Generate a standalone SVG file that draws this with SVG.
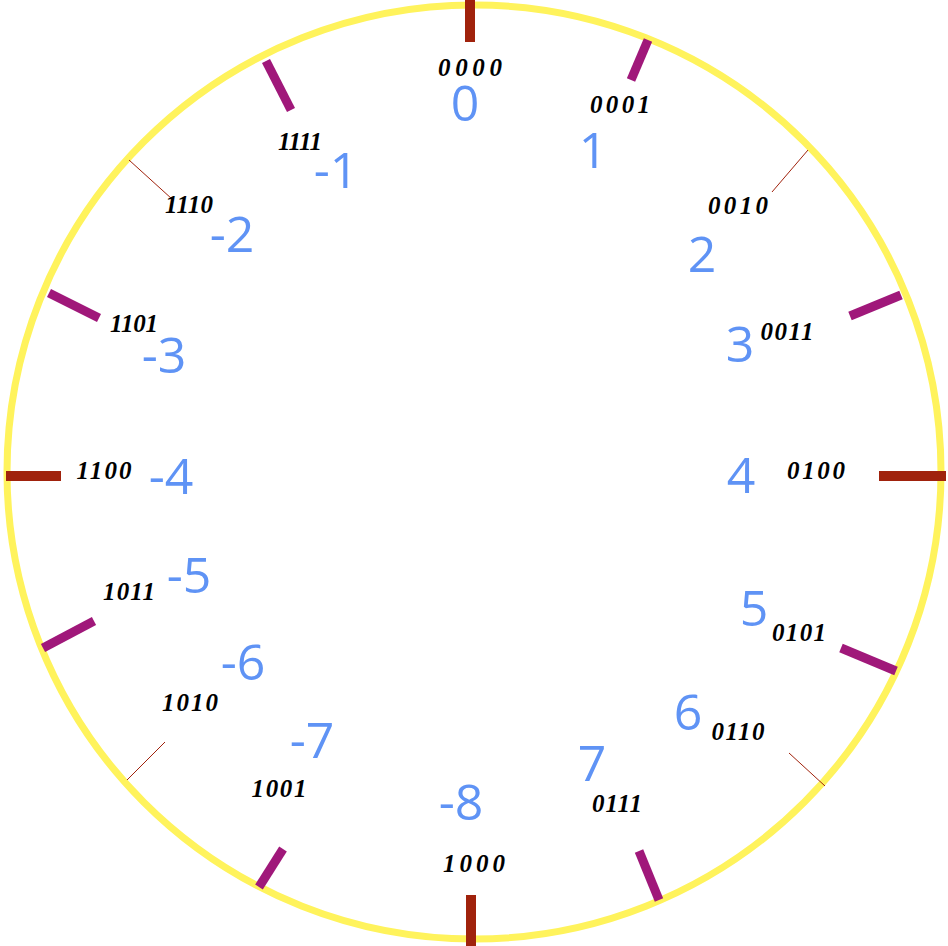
<svg xmlns="http://www.w3.org/2000/svg" width="948" height="946" viewBox="0 0 948 946">
<style>
.ring{fill:none;stroke:#FFF35C;stroke-width:7}
.main{stroke:#A0220C;stroke-width:10}
.mid{stroke:#A0187A;stroke-width:9}
.thin{stroke:#A0220C;stroke-width:1}
.dec{font-family:"Open Sans","Liberation Sans",sans-serif;font-size:50px;fill:#5F93F5;text-anchor:middle}
.bin{font-family:"Liberation Serif","DejaVu Serif",serif;font-size:25px;font-weight:bold;font-style:italic;fill:#000;text-anchor:middle}
</style>
<rect width="948" height="946" fill="#fff"/>
<circle id="ring" class="ring" cx="474" cy="472" r="467"/>
<g id="ticks">
<line class="main" x1="470" y1="0" x2="470" y2="42"/>
<line class="main" x1="471" y1="895" x2="471" y2="946"/>
<line class="main" x1="6" y1="476" x2="61" y2="476"/>
<line class="main" x1="879" y1="476" x2="946" y2="476"/>
<line class="mid" x1="648" y1="40" x2="631" y2="80"/>
<line class="mid" x1="901" y1="295" x2="850" y2="316"/>
<line class="mid" x1="896" y1="671" x2="841" y2="648"/>
<line class="mid" x1="659" y1="900" x2="639" y2="851"/>
<line class="mid" x1="259" y1="887" x2="283" y2="849"/>
<line class="mid" x1="43" y1="648" x2="94" y2="621"/>
<line class="mid" x1="49" y1="293" x2="99" y2="318"/>
<line class="mid" x1="266" y1="61" x2="291" y2="110"/>
<line class="thin" x1="808" y1="150" x2="772" y2="192"/>
<line class="thin" x1="825" y1="786" x2="789" y2="753"/>
<line class="thin" x1="127" y1="780" x2="165" y2="742"/>
<line class="thin" x1="129" y1="160" x2="172" y2="199"/>
</g>
<g id="v0"><text class="bin" x="470" y="76" textLength="64" lengthAdjust="spacing">0000</text><text class="dec" x="465" y="121">0</text></g>
<g id="v1"><text class="bin" x="620" y="113" textLength="60" lengthAdjust="spacing">0001</text><text class="dec" x="593" y="168">1</text></g>
<g id="v2"><text class="bin" x="738" y="214" textLength="60" lengthAdjust="spacing">0010</text><text class="dec" x="702" y="272">2</text></g>
<g id="v3"><text class="bin" x="787" y="340" textLength="53" lengthAdjust="spacing">0011</text><text class="dec" x="740" y="362">3</text></g>
<g id="v4"><text class="bin" x="816" y="479" textLength="58" lengthAdjust="spacing">0100</text><text class="dec" x="741" y="493">4</text></g>
<g id="v5"><text class="bin" x="799" y="641" textLength="54" lengthAdjust="spacing">0101</text><text class="dec" x="754" y="626">5</text></g>
<g id="v6"><text class="bin" x="738" y="740" textLength="53" lengthAdjust="spacing">0110</text><text class="dec" x="688" y="730">6</text></g>
<g id="v7"><text class="bin" x="617" y="812" textLength="50" lengthAdjust="spacing">0111</text><text class="dec" x="592" y="781">7</text></g>
<g id="vm8"><text class="bin" x="474" y="872" textLength="62" lengthAdjust="spacing">1000</text><text class="dec" x="461" y="820">-8</text></g>
<g id="vm7"><text class="bin" x="279" y="797" textLength="55" lengthAdjust="spacing">1001</text><text class="dec" x="312" y="758">-7</text></g>
<g id="vm6"><text class="bin" x="190" y="711" textLength="56" lengthAdjust="spacing">1010</text><text class="dec" x="243" y="680">-6</text></g>
<g id="vm5"><text class="bin" x="129" y="600" textLength="52" lengthAdjust="spacing">1011</text><text class="dec" x="189" y="593">-5</text></g>
<g id="vm4"><text class="bin" x="104" y="479" textLength="55" lengthAdjust="spacing">1100</text><text class="dec" x="171" y="494">-4</text></g>
<g id="vm3"><text class="bin" x="134" y="332" textLength="48" lengthAdjust="spacing">1101</text><text class="dec" x="164" y="373">-3</text></g>
<g id="vm2"><text class="bin" x="189" y="213" textLength="48" lengthAdjust="spacing">1110</text><text class="dec" x="232" y="252">-2</text></g>
<g id="vm1"><text class="bin" x="300" y="150" textLength="44" lengthAdjust="spacing">1111</text><text class="dec" x="336" y="188">-1</text></g>
</svg>
